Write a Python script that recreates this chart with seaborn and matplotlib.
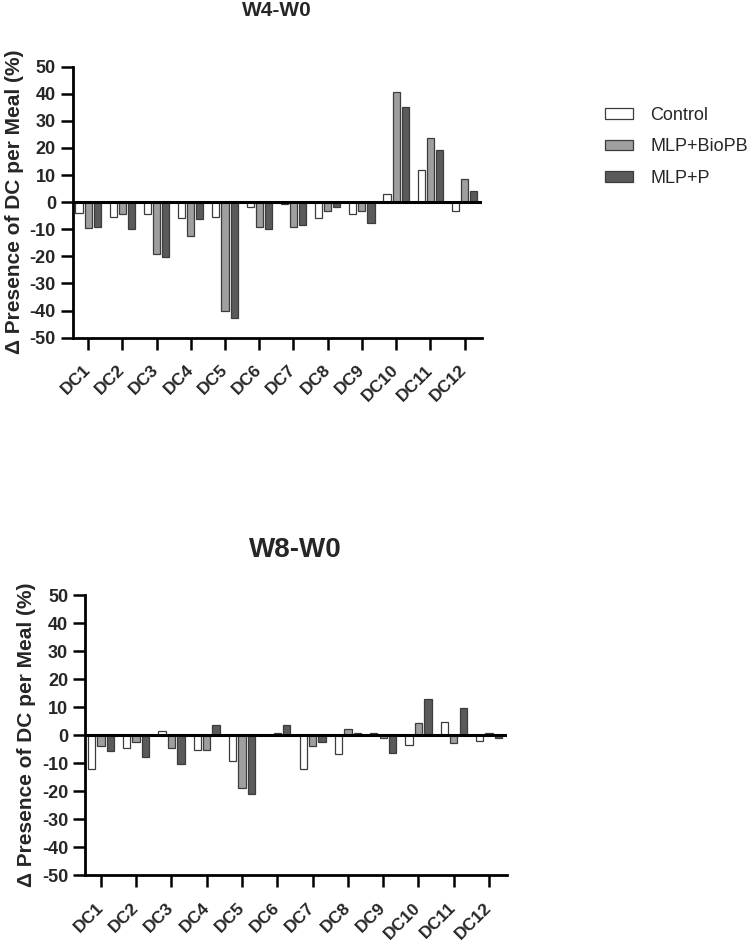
import numpy as np
import pandas as pd
import matplotlib
matplotlib.use("Agg")
import matplotlib.pyplot as plt
import matplotlib.transforms as mtransforms
import seaborn as sns

##Data
categories = ["DC1", "DC2", "DC3", "DC4", "DC5", "DC6",
              "DC7", "DC8", "DC9", "DC10", "DC11", "DC12"]
groups = ["Control", "MLP+BioPB", "MLP+P"]

w4_control = [-3.9, -5.4, -4.3, -5.9, -5.4, -1.7, -0.5, -5.8, -4.3, 2.9, 11.9, -3.3]
w4_biopb = [-9.4, -4.4, -19.1, -12.5, -40.2, -9.3, -9.1, -3.3, -3.2, 40.7, 23.8, 8.6]
w4_p = [-9.2, -9.8, -20.2, -6.3, -42.9, -9.8, -8.3, -1.6, -7.7, 35.3, 19.1, 4.3]

w8_control = [-12.0, -4.5, 1.3, -5.4, -9.3, 0.0, -12.0, -6.8, 0.8, -3.5, 4.5, -2.3]
w8_biopb = [-4.0, -2.4, -4.5, -5.4, -18.9, 0.8, -3.8, 2.0, -1.1, 4.3, -2.7, 0.7]
w8_p = [-5.6, -7.9, -10.5, 3.5, -21.1, 3.5, -2.6, 0.8, -6.3, 12.7, 9.8, -1.1]

yticks = [50, 40, 30, 20, 10, 0, -10, -20, -30, -40, -50]


def long_frame(ctrl, bio, p):
    rows = []
    for name, vals in zip(groups, [ctrl, bio, p]):
        for dc, v in zip(categories, vals):
            rows.append({"dc": dc, "group": name, "value": v})
    return pd.DataFrame(rows)


sns.set_style("white")
plt.rcParams["font.family"] = ["Liberation Sans", "DejaVu Sans"]

palette = {"Control": "#ffffff", "MLP+BioPB": "#9f9f9f", "MLP+P": "#5a5a5a"}

W, H = 751, 946
fig = plt.figure(figsize=(W / 100, H / 100), dpi=100)


def panel(rect_px, df):
    l, t, r, b = rect_px
    ax = fig.add_axes([l / W, 1 - b / H, (r - l) / W, (b - t) / H])
    sns.barplot(data=df, x="dc", y="value", hue="group", order=categories,
                hue_order=groups, palette=palette, width=0.8, gap=0.22,
                edgecolor="#3c3c3c", linewidth=0.9, errorbar=None, ax=ax)
    ax.axhline(0, color="black", lw=2.2, zorder=5)
    ax.set_ylim(-50, 50)
    ax.set_xlim(-0.45, 11.5)
    ax.set_yticks(yticks)
    ax.set_yticklabels([str(v) for v in yticks], fontweight="bold", fontsize=13)
    ax.set_xticks(range(len(categories)))
    ax.set_xticklabels(categories, rotation=45, ha="right", va="center",
                       rotation_mode="anchor", fontweight="bold", fontsize=12.5)
    shift = mtransforms.ScaledTranslation(4 / 100, 0, fig.dpi_scale_trans)
    for lab in ax.get_xticklabels():
        lab.set_transform(lab.get_transform() + shift)
    ax.tick_params(axis="both", direction="out", length=8.6, width=1.8, color="black",
                   left=True, bottom=True)
    ax.tick_params(axis="y", pad=3.5)
    ax.tick_params(axis="x", pad=13)
    for s in ["top", "right"]:
        ax.spines[s].set_visible(False)
    for s in ["left", "bottom"]:
        ax.spines[s].set_linewidth(2)
        ax.spines[s].set_color("black")
    ax.set_xlabel("")
    ax.set_ylabel("\u0394 Presence of DC per Meal (%)", fontweight="bold", fontsize=15,
                  labelpad=4)
    ax.get_legend().remove()
    return ax


ax1 = panel((72.7, 66.7, 481.7, 337.7), long_frame(w4_control, w4_biopb, w4_p))
ax2 = panel((85, 595, 506.7, 875), long_frame(w8_control, w8_biopb, w8_p))

fig.text(277 / W, 1 - 10 / H, "W4-W0", ha="center", va="center",
         fontweight="bold", fontsize=15)
fig.text(295 / W, 1 - 550 / H, "W8-W0", ha="center", va="center",
         fontweight="bold", fontsize=20)

handles, labels = ax1.get_legend_handles_labels()
fig.legend(handles, labels, loc="upper left", bbox_to_anchor=(605 / W, 1 - 107 / H),
           frameon=False, fontsize=13, handlelength=1.55, handleheight=0.5,
           labelspacing=0.8, handletextpad=0.95, borderpad=0, borderaxespad=0)

fig.savefig("out.png", dpi=100, facecolor="white")
